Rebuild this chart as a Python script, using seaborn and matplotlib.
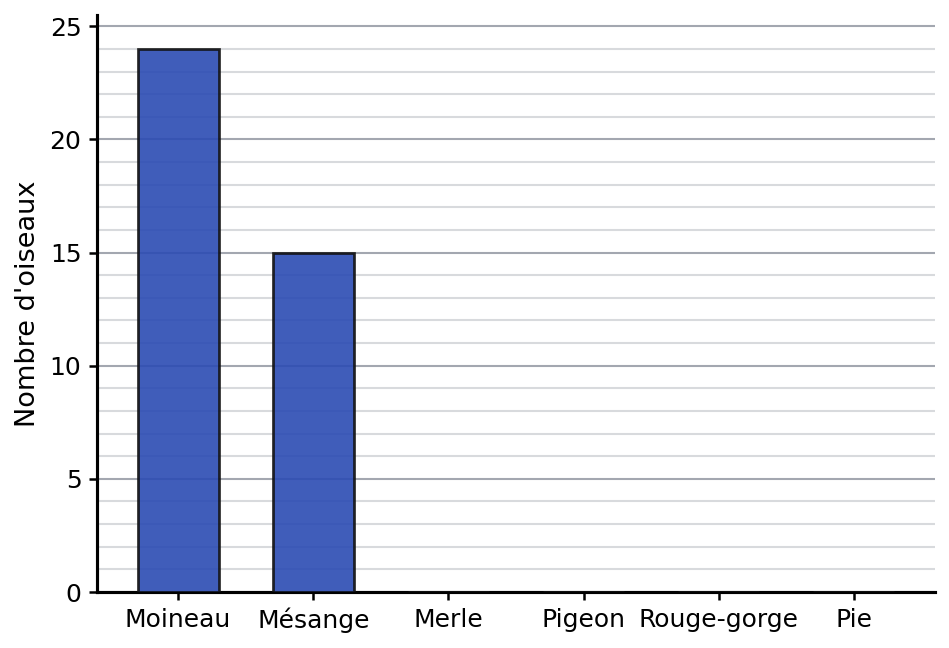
import numpy as np
import pandas as pd
import matplotlib
matplotlib.use("Agg")
import matplotlib.pyplot as plt
from matplotlib.ticker import MultipleLocator
import seaborn as sns

# bird counts
birds = ["Moineau", "Mésange", "Merle", "Pigeon", "Rouge-gorge", "Pie"]
counts = [24, 15, 0, 0, 0, 0]
ylabel = "Nombre d'oiseaux"

df = pd.DataFrame({"oiseau": birds, "nombre": counts})

sns.set_style("white")
plt.rcParams['font.family'] = ['DejaVu Sans']
plt.rcParams['text.color'] = 'black'
plt.rcParams['axes.labelcolor'] = 'black'
plt.rcParams['xtick.color'] = 'black'
plt.rcParams['ytick.color'] = 'black'

fig, ax = plt.subplots(figsize=(949/150, 648/150), dpi=150)
fig.subplots_adjust(left=97/949, right=935/949, top=1-15/648, bottom=1-592/648)

sns.barplot(data=df, x="oiseau", y="nombre", color="#2b4bb3", alpha=0.9,
            saturation=1, edgecolor="#111111", linewidth=1.3, width=0.6,
            ax=ax, zorder=3)

ax.set_xlim(-0.6, len(birds) - 0.4)
ax.set_ylim(0, 25.5)
ax.yaxis.set_major_locator(MultipleLocator(5))
ax.yaxis.set_minor_locator(MultipleLocator(1))
ax.grid(which="major", axis="y", color="#a3a7b0", linewidth=1.0, zorder=0)
ax.grid(which="minor", axis="y", color="#d8dadd", linewidth=1.0, zorder=0)
ax.set_axisbelow(True)

ax.set_xlabel("")
ax.set_ylabel(ylabel, fontsize=13)
ax.tick_params(axis="both", which="major", labelsize=12, length=4, width=1.2,
               left=True, bottom=True)
ax.tick_params(axis="y", which="minor", left=False)

for s in ["top", "right"]:
    ax.spines[s].set_visible(False)
for s in ["left", "bottom"]:
    ax.spines[s].set_linewidth(1.5)
    ax.spines[s].set_color("black")

fig.savefig("out.png", dpi=150)
